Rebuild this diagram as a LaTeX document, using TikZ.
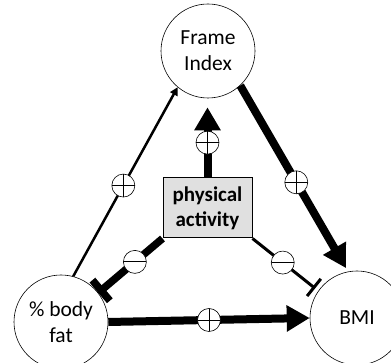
\documentclass[tikz,border=0pt]{standalone}
\usepackage{fontspec}
\setmainfont{Carlito}
\usetikzlibrary{arrows.meta}
\tikzset{
  var/.style={circle, draw, line width=0.6pt, minimum size=94pt, inner sep=0pt, align=center,
    font=\fontsize{21.5}{26}\selectfont},
  actbox/.style={draw, line width=1pt, fill=black!12, minimum width=89pt, minimum height=60pt,
    inner sep=0pt, align=center, font=\fontsize{21}{25}\selectfont\bfseries},
  markbase/.style={circle, draw, fill=white, minimum size=23pt, inner sep=0pt, line width=0.6pt},
  markline/.style={-, line width=0.9pt, shorten >=0pt, shorten <=0pt},
  plusmark/.style={markbase, path picture={
     \draw[markline] (path picture bounding box.north) -- (path picture bounding box.south)
       (path picture bounding box.west) -- (path picture bounding box.east);}},
  minusmark/.style={markbase, path picture={
     \draw[markline] (path picture bounding box.west) -- (path picture bounding box.east);}},
  thickarrow/.style={line width=8pt, -{Triangle[length=23pt,width=25pt]}},
  thinarrow/.style={line width=2.5pt, -{Triangle[length=8pt,width=8pt]}},
  thickbar/.style={line width=7.5pt, -{Bar[width=27pt,line width=7.5pt]}},
  thinbar/.style={line width=3pt, -{Bar[width=22pt,line width=3pt]}},
}
\begin{document}
\begin{tikzpicture}[x=1pt,y=1pt]
\useasboundingbox (0,0) rectangle (391,363);
\node[var] (fi) at (208,312) {Frame\\Index};
\node[var] (bf) at (61,41) {\%~body\\fat};
\node[var] (bmi) at (357,45) {BMI};
\node[actbox] (pa) at (207.5,155) {physical\\activity};

\draw[thinarrow] (bf.75) -- node[pos=0.48, plusmark] (m1) {} (fi.230);
\draw[thickarrow, shorten >=4pt] (fi.-47) -- node[pos=0.52, plusmark] (m2) {} (bmi.101);
\draw[thickarrow] (bf.east) -- node[pos=0.5, plusmark] (m3) {} (bmi.west);
\draw[thickarrow, shorten >=9pt] (pa.north) -- node[pos=0.44, plusmark] (m4) {} (pa.north |- fi.south);
\draw[thickbar] (pa.south west) -- node[pos=0.43, minusmark] (m5) {} (bf.38);
\draw[thinbar, shorten >=4pt] (pa.south east) -- node[pos=0.46, minusmark] (m6) {} (bmi.145);
\end{tikzpicture}
\end{document}
